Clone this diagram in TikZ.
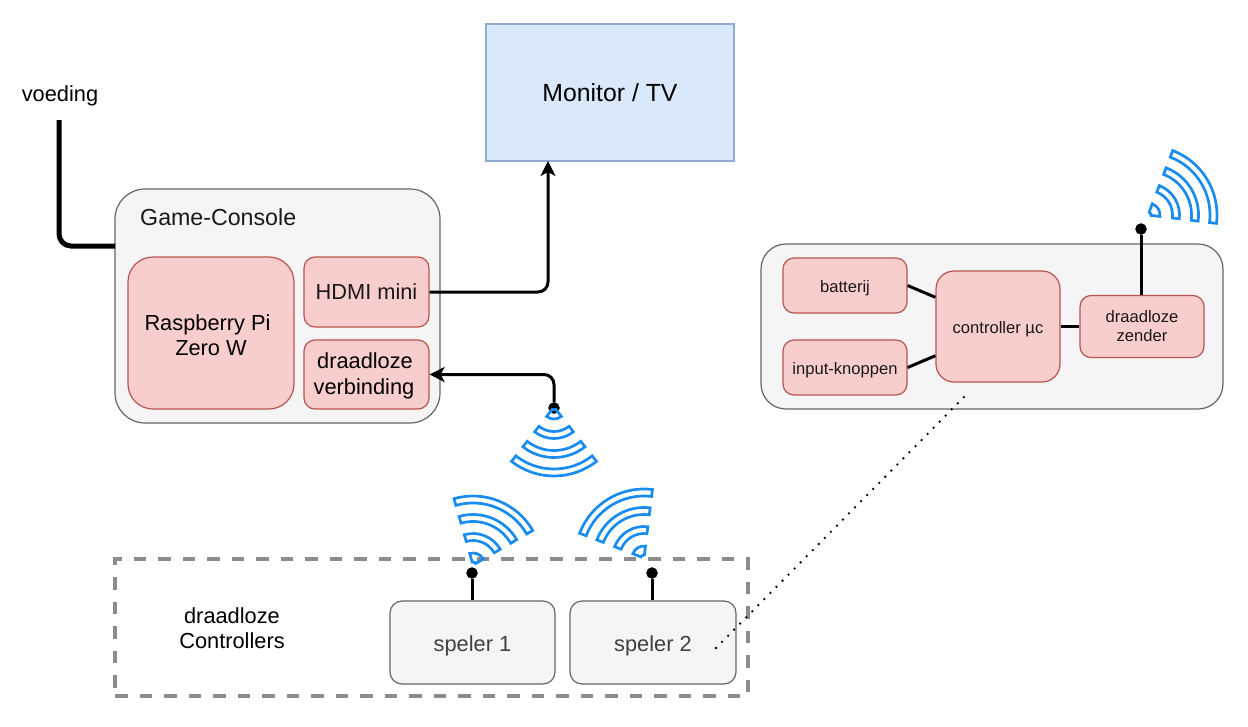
\documentclass[tikz,border=0pt]{standalone}
\usepackage{fontspec}
\setmainfont{Liberation Sans}
\usetikzlibrary{arrows.meta}
\definecolor{wifiblue}{HTML}{1A8CF0}
\definecolor{boxgrey}{HTML}{F5F5F5}
\definecolor{linegrey}{HTML}{666666}
\definecolor{redfill}{HTML}{F8CECC}
\definecolor{redline}{HTML}{B85450}
\definecolor{bluefill}{HTML}{DAE8FC}
\definecolor{blueline}{HTML}{8FABD6}
\newcommand{\wifisym}[3]{%
  \begin{scope}[shift={(#1,#2)},rotate=#3]
    \foreach \ra/\rb in {3/12,24.5/31.5,43.5/50.5,62/69}
      \draw[wifi line] (-38:\ra) arc[start angle=-38,end angle=38,radius=\ra]
        -- (38:\rb) arc[start angle=38,end angle=-38,radius=\rb] -- cycle;
  \end{scope}}
\begin{document}
\begin{tikzpicture}[
    x=1pt, y=1pt,
    grey box/.style={draw=linegrey,fill=boxgrey,line width=1.2pt,rounded corners=#1,inner sep=0pt},
    grey box/.default=12pt,
    red box/.style={draw=redline,fill=redfill,line width=1.2pt,rounded corners=#1,align=center,inner sep=0pt,text=black!90},
    red box/.default=11pt,
    small/.style={font=\fontsize{16.6}{19}\selectfont},
    big/.style={font=\fontsize{21.8}{25.5}\selectfont},
    main line/.style={line width=3pt,draw=black},
    arrow line/.style={main line,rounded corners=10pt,-{Stealth[length=15pt,width=15pt,inset=4pt]}},
    dot node/.style={circle,fill=black,draw=black,inner sep=0pt,minimum size=11pt},
    wifi line/.style={draw=wifiblue,line width=2.7pt,line join=miter},
    ]
    \useasboundingbox (0,0) rectangle (1248,-726);

    \node[draw=blueline,fill=bluefill,line width=2pt,minimum width=248pt,minimum height=137pt,
      font=\fontsize{24.8}{30}\selectfont] (monitor) at (610,-92.5) {Monitor / TV};

    % game console
    \node[grey box=30pt,minimum width=325pt,minimum height=234pt] (console) at (277.5,-306) {};
    \node[anchor=west,inner sep=0pt,font=\fontsize{23.2}{28}\selectfont,text=black!90] (consoletitle) at (140,-217) {Game-Console};
    \node[red box=25pt,minimum width=166pt,minimum height=152pt] (raspberry) at (211,-333) {};
    \node[big,align=center,inner sep=0pt] (raspberrytext) at (208,-335) {Raspberry Pi\hspace*{1pt}\\Zero W\hspace*{-6pt}};
    \node[red box,big,minimum width=125pt,minimum height=70pt] (hdmi) at (366.5,-292) {HDMI mini};
    \node[red box,minimum width=125pt,minimum height=69pt] (radio) at (366.5,-374.5) {};
    \node[big,align=center,inner sep=0pt] (radiotext) at (364,-376) {draadloze\hspace*{-2pt}\\verbinding};

    \node[big,inner sep=0pt] (voeding) at (60,-96) {voeding};
    \coordinate (voedingend) at (59,-120);
    \coordinate (voedingbox) at (115,-246);
    \draw[line width=5pt,rounded corners=12pt] (voedingend) |- (voedingbox);

    \coordinate (monitorin) at (548,-161);
    \draw[arrow line] (hdmi.east) -| (monitorin);
    \node[dot node] (radiodot) at (554,-408) {};
    \draw[arrow line] (radiodot) |- (radio.east);
    \wifisym{554}{-407}{-90}

    % controllers
    \node[draw=linegrey!75,dash pattern=on 12.5pt off 12pt,line width=4pt,minimum width=633pt,minimum height=137pt] (controllers) at (431.5,-627.5) {};
    \node[big,align=center,inner sep=0pt] (controllerstext) at (232,-628) {draadloze\\Controllers};
    \node[grey box,big,minimum width=165pt,minimum height=83pt,text=black!75,text height=21.8pt,text depth=4.6pt] (speler1) at (472.5,-642.5) {speler 1};
    \node[grey box,big,minimum width=166pt,minimum height=83pt,text=black!75,text height=21.8pt,text depth=4.6pt] (speler2) at (653,-642.5) {speler 2};
    \node[dot node] (dot1) at (472,-573) {};
    \node[dot node] (dot2) at (652,-573) {};
    \draw[main line] (dot1) -- (dot1 |- speler1.north);
    \draw[main line] (dot2) -- (dot2 |- speler2.north);
    \wifisym{473}{-565}{68}
    \wifisym{644}{-558}{121}

    % controller detail
    \node[grey box=25pt,minimum width=462pt,minimum height=165pt] (panel) at (992,-326.5) {};
    \node[red box,small,minimum width=124pt,minimum height=55pt,text height=16.6pt,text depth=3.6pt] (batterij) at (845,-285.5) {batterij};
    \node[red box,small,minimum width=124pt,minimum height=55pt,text height=16.6pt,text depth=3.6pt] (knoppen) at (845,-367.5) {input-knoppen};
    \node[red box=18pt,small,minimum width=124pt,minimum height=111pt,text height=16.6pt,text depth=3.6pt] (controller) at (998,-326.5) {controller µc};
    \node[red box,small,minimum width=124pt,minimum height=62pt] (zender) at (1142,-326.5) {draadloze\\zender};
    \node[dot node] (zenderdot) at (1141,-229) {};
    \draw[main line] (batterij.east) -- (controller.155);
    \draw[main line] (knoppen.east) -- (controller.205);
    \draw[main line] (controller.east) -- (zender.west);
    \draw[main line] (zenderdot) -- (zenderdot |- zender.north);
    \wifisym{1148}{-215}{31}

    \coordinate (zoomstart) at (716,-648);
    \coordinate (zoomend) at (966,-395);
    \draw[line width=2.6pt,line cap=round,dash pattern=on 0pt off 8.6pt] (zoomstart) -- (zoomend);
\end{tikzpicture}
\end{document}
